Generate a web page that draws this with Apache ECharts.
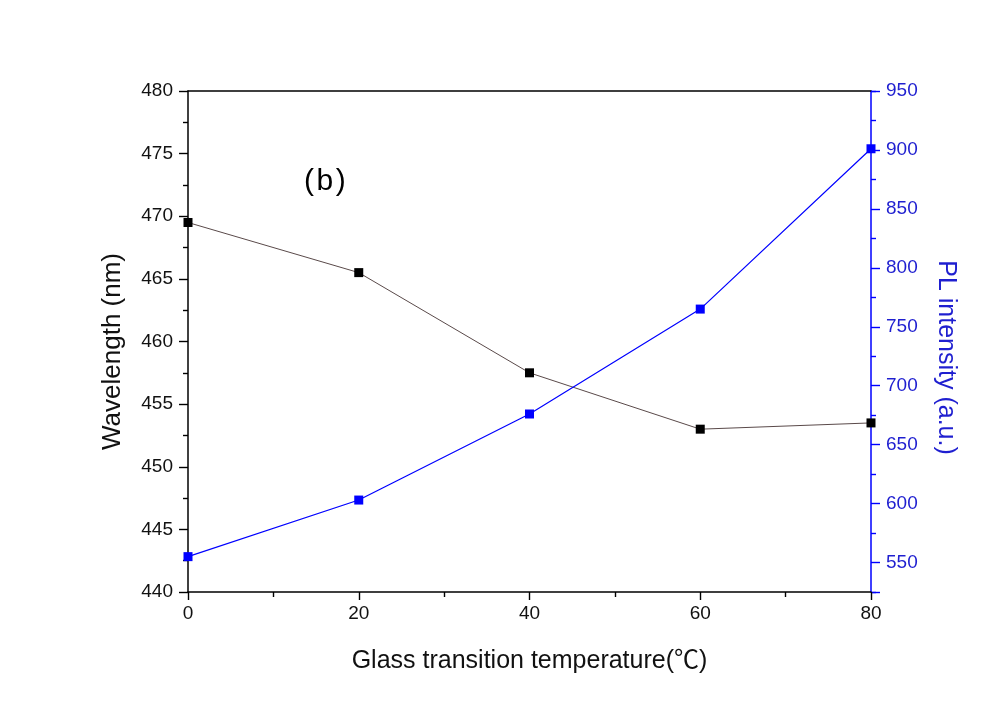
<!DOCTYPE html>
<html>
<head>
<meta charset="utf-8">
<script src="https://cdn.jsdelivr.net/npm/echarts@6/dist/echarts.min.js"></script>
<style>html,body{margin:0;padding:0;background:#fff;}#c{width:1000px;height:705px;}</style>
</head>
<body>
<div id="c"></div>
<script>
const temperatures = [0, 20, 40, 60, 80];
const wavelength = [469.5, 465.5, 457.5, 453.0, 453.5];
const plIntensity = [555, 603, 676, 765, 901];

const FONT = '"Liberation Sans", Arial, "Noto Sans CJK SC", sans-serif';
const BLUE = '#0000ff';
const BLUE_TXT = '#1f1fd0';
const TICK_W = 1.4;

const chart = echarts.init(document.getElementById('c'));
chart.setOption({
  backgroundColor: '#ffffff',
  animation: false,
  grid: [
    { left: 188, right: 129, top: 91, bottom: 113, show: false },
    { left: 188, right: 129, top: 91, bottom: 113, show: false }
  ],
  graphic: [{
    type: 'text', left: 304, top: 167,
    style: { text: '(\u200Ab\u200A)', font: '30px ' + FONT, fill: '#000' }
  }],
  xAxis: [{
    type: 'value', gridIndex: 0, min: 0, max: 80, interval: 20,
    name: 'Glass transition temperature(℃)', nameLocation: 'middle', nameGap: 57,
    nameTextStyle: { fontFamily: FONT, fontSize: 25, color: '#111' },
    axisLine: { show: true, onZero: false, lineStyle: { color: '#000', width: 1.5 } },
    axisTick: { show: true, inside: false, length: 8, lineStyle: { color: '#000', width: TICK_W } },
    minorTick: { show: true, splitNumber: 2, length: 5, lineStyle: { color: '#000', width: TICK_W } },
    axisLabel: { fontFamily: FONT, fontSize: 19, color: '#111', margin: 12 },
    splitLine: { show: false }
  }, {
    type: 'value', gridIndex: 0, position: 'top', min: 0, max: 80, interval: 20,
    axisLine: { show: true, onZero: false, lineStyle: { color: '#000', width: 1.5 } },
    axisTick: { show: false }, axisLabel: { show: false }, splitLine: { show: false }
  }, {
    type: 'value', gridIndex: 1, min: 0, max: 80, interval: 20,
    axisLine: { show: false, onZero: false }, axisTick: { show: false },
    axisLabel: { show: false }, splitLine: { show: false }
  }],
  yAxis: [{
    type: 'value', gridIndex: 0, position: 'left', min: 440, max: 480, interval: 5,
    name: 'Wavelength (nm)', nameLocation: 'middle', nameGap: 62,
    nameTextStyle: { fontFamily: FONT, fontSize: 26, color: '#111', padding: [0, 20, 0, 0] },
    axisLine: { show: true, onZero: false, lineStyle: { color: '#000', width: 1.5 } },
    axisTick: { show: true, inside: false, length: 9, lineStyle: { color: '#000', width: TICK_W } },
    minorTick: { show: true, splitNumber: 2, length: 5, lineStyle: { color: '#000', width: TICK_W } },
    axisLabel: { fontFamily: FONT, fontSize: 19, color: '#111', margin: 15 },
    splitLine: { show: false }
  }, {
    type: 'value', gridIndex: 0, position: 'right', min: 525, max: 950, splitNumber: 8,
    name: 'PL intensity (a.u.)', nameLocation: 'middle', nameGap: 62, nameRotate: -90,
    nameTextStyle: { fontFamily: FONT, fontSize: 25, color: BLUE_TXT, padding: [0, 0, 0, 32] },
    axisLine: { show: true, onZero: false, lineStyle: { color: BLUE, width: 1.5 } },
    axisTick: { show: true, inside: false, length: 9, lineStyle: { color: BLUE, width: TICK_W } },
    axisLabel: {
      fontFamily: FONT, fontSize: 19, color: BLUE_TXT, margin: 15,
      formatter: v => (v % 50 === 0 ? String(v) : '')
    },
    splitLine: { show: false }
  }, {
    type: 'value', gridIndex: 1, position: 'right', min: 525, max: 950, interval: 50,
    axisLine: { show: false, onZero: false },
    axisTick: { show: true, inside: false, length: 5, lineStyle: { color: BLUE, width: TICK_W } },
    axisLabel: { show: false },
    splitLine: { show: false }
  }],
  series: [{
    type: 'line', xAxisIndex: 0, yAxisIndex: 0,
    data: temperatures.map((t, i) => [t, wavelength[i]]),
    symbol: 'rect', symbolSize: 9, z: 1,
    lineStyle: { color: '#5a4a4a', width: 1 },
    itemStyle: { color: '#000' }
  }, {
    type: 'line', xAxisIndex: 0, yAxisIndex: 1,
    data: temperatures.map((t, i) => [t, plIntensity[i]]),
    symbol: 'rect', symbolSize: 9, z: 1,
    lineStyle: { color: BLUE, width: 1.2 },
    itemStyle: { color: BLUE }
  }]
});
</script>
</body>
</html>
